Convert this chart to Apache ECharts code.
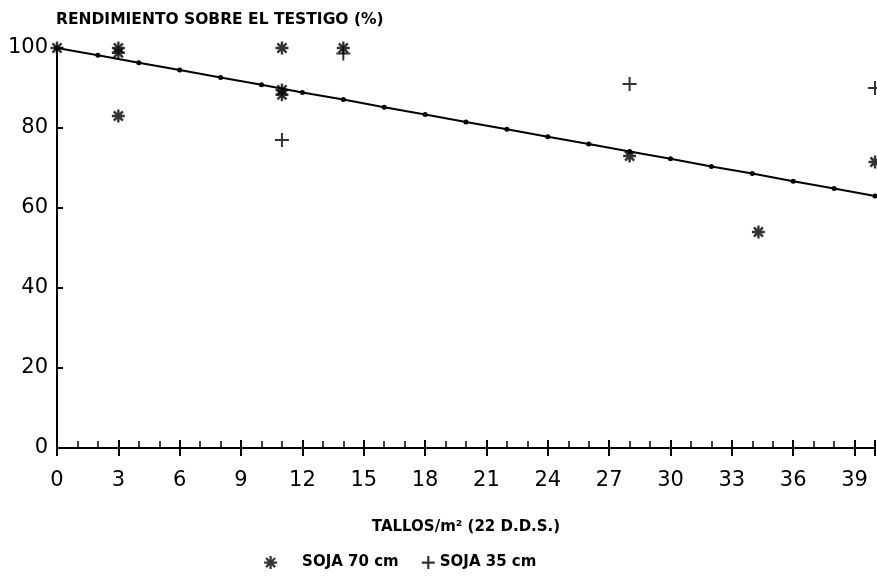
<!DOCTYPE html>
<html>
<head>
<meta charset="utf-8">
<script src="https://cdn.jsdelivr.net/npm/echarts@6/dist/echarts.min.js"></script>
<style>
    html, body { margin: 0; padding: 0; background: #fff; }
    #chart { width: 877px; height: 578px; }
</style>
</head>
<body>
<div id="chart"></div>
<script>
// datos
var soja70 = [
    [0, 100], [3, 100], [3, 98.8], [3, 83], [11, 100], [11, 89.5], [11, 88.3],
    [14, 100], [28, 73], [34.3, 54], [40, 71.5]
];
var soja35 = [
    [11, 77], [14, 98.6], [28, 91], [40, 90]
];
var lineX = [0, 2, 4, 6, 8, 10, 12, 14, 16, 18, 20, 22, 24, 26, 28, 30, 32, 34, 36, 38, 40];
var lineY = [100, 98.2, 96.3, 94.5, 92.6, 90.8, 88.9, 87.1, 85.2, 83.4, 81.5, 79.7, 77.8, 76.0, 74.1, 72.3, 70.4, 68.6, 66.7, 64.9, 63.0];

var starPath = 'path://M0,5L10,5M5,0L5,10M1.5,1.5L8.5,8.5M8.5,1.5L1.5,8.5';
var plusPath = 'path://M0,5L10,5M5,0L5,10';

var dom = document.getElementById('chart');
var myChart = echarts.init(dom);

var lineData = [];
for (var i = 0; i < lineX.length; i++) {
    lineData.push([lineX[i], lineY[i]]);
}

var boldFont = 'DejaVu Sans, sans-serif';
var numFont = 'DejaVu Sans, sans-serif';

var option = {
    animation: false,
    backgroundColor: '#fff',
    title: {
        text: 'RENDIMIENTO SOBRE EL TESTIGO (%)',
        left: 56,
        top: 12,
        padding: 0,
        textStyle: { fontFamily: boldFont, fontSize: 15.5, fontWeight: 'bold', color: '#000' }
    },
    legend: {
        top: 555,
        left: 263,
        padding: 0,
        itemWidth: 13,
        itemHeight: 13,
        itemGap: 22,
        itemStyle: { borderWidth: 2.2 },
        data: [
            { name: 'SOJA 70 cm', icon: starPath,
              textStyle: { fontFamily: boldFont, fontSize: 15, fontWeight: 'bold', color: '#000', padding: [3, 0, 0, 20] } },
            { name: 'SOJA 35 cm', icon: plusPath,
              textStyle: { fontFamily: boldFont, fontSize: 15, fontWeight: 'bold', color: '#000', padding: [3, 0, 0, 0] } }
        ]
    },
    grid: { left: 57, right: 2, top: 48, bottom: 130 },
    xAxis: [{
        type: 'value',
        min: 0,
        max: 40,
        interval: 3,
        name: 'TALLOS/m² (22 D.D.S.)',
        nameLocation: 'middle',
        nameGap: 72,
        nameTextStyle: { fontFamily: boldFont, fontSize: 15, fontWeight: 'bold', color: '#000' },
        axisLine: { lineStyle: { color: '#000', width: 2 } },
        axisTick: { inside: true, length: 8, lineStyle: { color: '#000', width: 2 } },
        minorTick: { show: true, splitNumber: 3, length: 7, lineStyle: { color: '#000', width: 1.5 } },
        axisLabel: { fontFamily: numFont, fontSize: 21, color: '#000', margin: 22, showMaxLabel: false },
        splitLine: { show: false }
    }, {
        type: 'value',
        min: 0,
        max: 40,
        interval: 3,
        position: 'bottom',
        axisLine: { show: false },
        axisTick: { inside: false, length: 8, lineStyle: { color: '#000', width: 2 } },
        axisLabel: { show: false },
        splitLine: { show: false }
    }],
    yAxis: {
        type: 'value',
        min: 0,
        max: 100,
        interval: 20,
        axisLine: { show: true, lineStyle: { color: '#000', width: 2 } },
        axisTick: { show: true, inside: true, length: 6, lineStyle: { color: '#000', width: 2 } },
        axisLabel: { fontFamily: numFont, fontSize: 21, color: '#000', margin: 9 },
        splitLine: { show: false }
    },
    series: [{
        name: 'regresion',
        type: 'line',
        data: lineData,
        symbol: 'circle',
        symbolSize: 5,
        showSymbol: true,
        clip: false,
        lineStyle: { color: '#000', width: 2 },
        itemStyle: { color: '#000' }
    }, {
        name: 'SOJA 70 cm',
        type: 'scatter',
        data: soja70,
        symbol: starPath,
        symbolSize: 13,
        itemStyle: { color: '#000', borderColor: '#000', borderWidth: 2.4 }
    }, {
        name: 'SOJA 35 cm',
        type: 'scatter',
        data: soja35,
        symbol: plusPath,
        symbolSize: 14,
        itemStyle: { color: '#000', borderColor: '#000', borderWidth: 2 }
    }]
};

if (option && typeof option === 'object') {
    myChart.setOption(option, true);
}
</script>
</body>
</html>
